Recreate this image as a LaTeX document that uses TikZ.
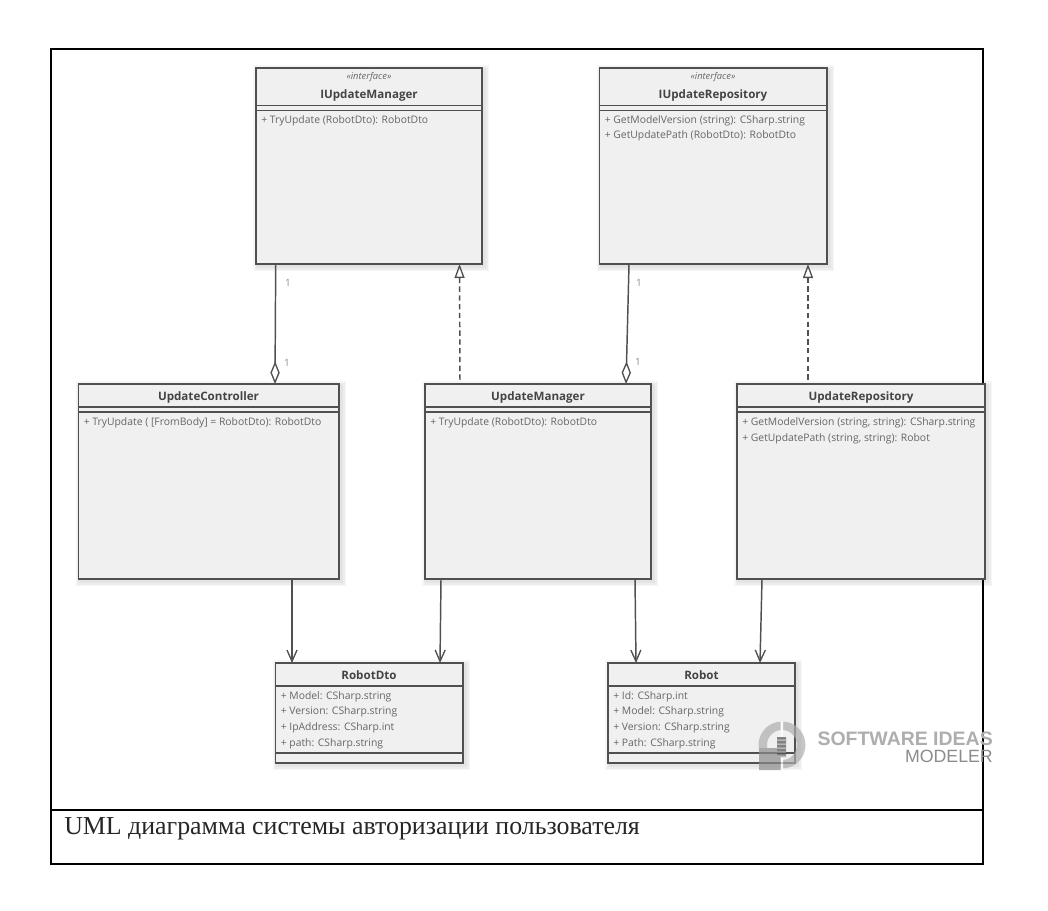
\documentclass[tikz,border=0pt]{standalone}
\usepackage{fontspec}
\setmainfont{Open Sans}
\newfontfamily\capf{Liberation Serif}
\newfontfamily\wmf{Liberation Sans}
\usetikzlibrary{calc,arrows.meta}
\definecolor{boxfill}{HTML}{F0F0F0}
\definecolor{boxline}{HTML}{505050}
\definecolor{txt}{HTML}{666666}
\definecolor{ttl}{HTML}{444444}
\definecolor{wm}{HTML}{8C8C8C}
\tikzset{
  cls/.style={draw=boxline,fill=boxfill,line width=1.2pt,rectangle,inner sep=0,outer sep=0,anchor=north west},
  mem/.style={anchor=west,inner sep=0,text=txt,font=\fontsize{7.78}{9}\selectfont},
  title/.style={anchor=center,inner sep=0,text=ttl,font=\fontsize{8.7}{10}\selectfont\bfseries},
  stereo/.style={anchor=center,inner sep=0,text=txt,font=\fontsize{7}{8}\selectfont\itshape},
  mult/.style={anchor=center,inner sep=0,text=black!45,font=\fontsize{7.5}{9}\selectfont},
  conn/.style={draw=boxline,line width=1.1pt},
  assoc/.style={conn,-{Straight Barb[length=8.5pt,width=7.5pt,line width=1pt]}},
  aggr/.style={conn,-{Diamond[open,fill=white,length=17pt,width=7pt,line width=1pt]}},
  real/.style={conn,dash pattern=on 4pt off 2.6pt,{Triangle[open,fill=white,length=10.5pt,width=7.5pt,line width=1pt]}-},
  frame/.style={draw=black,line width=1.5pt},
}
\newcommand\umlclass[7]{%
  \foreach \g in {5,3.5,2}{\fill[black,opacity=0.035] (#2+2-\g,#3+2-\g) rectangle (#4+2+\g,#5+2+\g);}
  \node[cls,minimum width={(#4-#2)*0.75pt},minimum height={(#5-#3)*0.75pt}] (#1) at (#2,#3) {};
  \draw[boxline,line width=1pt] (#2,#6) -- (#4,#6);
  \draw[boxline,line width=1pt] (#2,#7) -- (#4,#7);
}
\begin{document}
\begin{tikzpicture}[x=0.75pt,y=-0.75pt]
\useasboundingbox (0,0) rectangle (1048,910);
\fill[white] (0,0) rectangle (1048,910);
% frame
\coordinate (fa) at (51,49);
\coordinate (fb) at (983,864);
\coordinate (fl) at (51,810);
\coordinate (fr) at (983,810);
\draw[frame] (fa) rectangle (fb);
\draw[frame] (fl) -- (fr);
\node[anchor=west,inner sep=0,text=black!85,font=\capf\fontsize{19.4}{22}\selectfont] (cap) at (64,829) {UML диаграмма системы авторизации пользователя};
% classes
\umlclass{iman}{256}{68}{482}{264}{105.5}{110.5}
\node[stereo] (s1) at (369,77.5) {«interface»};
\node[title] (t1) at (369,95) {IUpdateManager};
\node[mem] (m1) at (261,121) {+ TryUpdate (RobotDto): RobotDto};

\umlclass{irep}{599.5}{68}{827}{264}{105.5}{110.5}
\node[stereo] (s2) at (713,77.5) {«interface»};
\node[title] (t2) at (713,95) {IUpdateRepository};
\node[mem] (m2a) at (604.5,121) {+ GetModelVersion (string): CSharp.string};
\node[mem] (m2b) at (604.5,136) {+ GetUpdatePath (RobotDto): RobotDto};

\umlclass{ctrl}{78.5}{384}{339}{579}{407}{412}
\node[title] (t3) at (208.5,397) {UpdateController};
\node[mem] (m3) at (83.5,423) {+ TryUpdate ( [FromBody] = RobotDto): RobotDto};

\umlclass{man}{425}{384}{651}{579}{407}{412}
\node[title] (t4) at (538,397) {UpdateManager};
\node[mem] (m4) at (430,423) {+ TryUpdate (RobotDto): RobotDto};

\umlclass{rep}{737}{384}{985}{579}{407}{412}
\node[title] (t5) at (861,397) {UpdateRepository};
\node[mem] (m5a) at (742,423) {+ GetModelVersion (string, string): CSharp.string};
\node[mem] (m5b) at (742,438.5) {+ GetUpdatePath (string, string): Robot};

\umlclass{dto}{275.5}{663}{463}{763}{686}{753}
\node[title] (t6) at (369,675.5) {RobotDto};
\node[mem] (m6a) at (280.5,697) {+ Model: CSharp.string};
\node[mem] (m6b) at (280.5,712) {+ Version: CSharp.string};
\node[mem] (m6c) at (280.5,728) {+ IpAddress: CSharp.int};
\node[mem] (m6d) at (280.5,743.5) {+ path: CSharp.string};

\umlclass{rob}{608}{663}{795}{763}{686}{753}
\node[title] (t7) at (701.5,675.5) {Robot};
\node[mem] (m7a) at (613,697) {+ Id: CSharp.int};
\node[mem] (m7b) at (613,712) {+ Model: CSharp.string};
\node[mem] (m7c) at (613,728) {+ Version: CSharp.string};
\node[mem] (m7d) at (613,743.5) {+ Path: CSharp.string};
% connectors
\draw[aggr] ($(iman.south west)+(19.7,0)$) -- ($(ctrl.north west)+(196.5,0)$);
\draw[real] ($(iman.south west)+(203.5,0)$) -- ($(man.north west)+(35,0)$);
\draw[aggr] ($(irep.south west)+(29.5,0)$) -- ($(man.north west)+(201,0)$);
\draw[real] ($(irep.south west)+(208.5,0)$) -- ($(rep.north west)+(71,0)$);
\draw[assoc] ($(ctrl.south west)+(213.5,0)$) -- ($(dto.north west)+(16.5,0)$);
\draw[assoc] ($(man.south west)+(16,0)$) -- ($(dto.north west)+(164.5,0)$);
\draw[assoc] ($(man.south west)+(210,0)$) -- ($(rob.north west)+(28,0)$);
\draw[assoc] ($(rep.south west)+(25,0)$) -- ($(rob.north west)+(152,0)$);
\node[mult] (l1) at (288,283) {1};
\node[mult] (l2) at (287,363) {1};
\node[mult] (l3) at (639,283) {1};
\node[mult] (l4) at (638,362) {1};
% watermark logo
\begin{scope}[transparency group,opacity=0.7]
\fill[wm!70!white,even odd rule] (782,745) circle (23.5) (782,745) circle (15);
\fill[white] (780.5,721) rectangle (783,769);
\fill[wm] (759,748) rectangle (780.5,770);
\fill[wm!60!black] (777,737) rectangle (786,757);
\foreach \yy in {739.5,743.5,747.5,751.5,755.5}{\fill[wm!50!white] (777,\yy) rectangle (786,\yy+1);}
\end{scope}
\node[anchor=east,inner sep=0,text=wm!70!white,font=\wmf\fontsize{14.6}{16}\selectfont\bfseries] (w1) at (993,739) {SOFTWARE IDEAS};
\node[anchor=east,inner sep=0,text=wm,font=\wmf\fontsize{13.3}{15}\selectfont] (w2) at (993,756) {MODELER};
\end{tikzpicture}
\end{document}
